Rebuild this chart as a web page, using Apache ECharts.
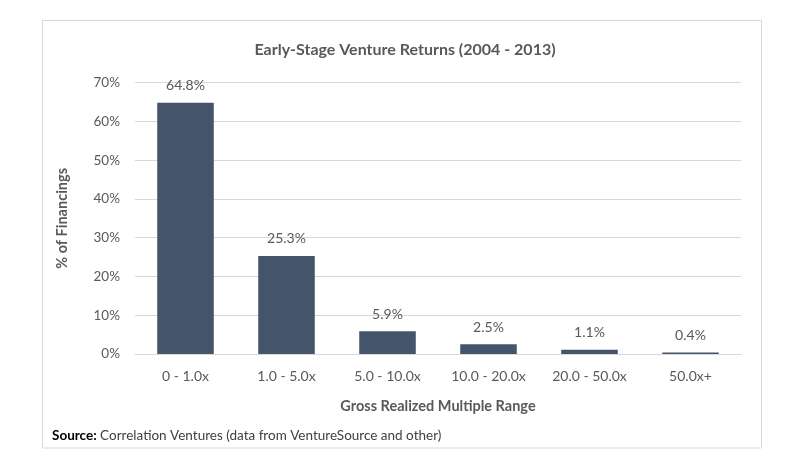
<!DOCTYPE html>
<html><head><meta charset="utf-8">
<script src="https://cdn.jsdelivr.net/npm/echarts@6/dist/echarts.min.js"></script>
<style>html,body{margin:0;padding:0;background:#fff}#c{width:810px;height:462px}</style>
</head><body><div id="c"></div>
<script>
const categories = ['0 - 1.0x','1.0 - 5.0x','5.0 - 10.0x','10.0 - 20.0x','20.0 - 50.0x','50.0x+'];
const values = [64.8, 25.3, 5.9, 2.5, 1.1, 0.4];
const titleText = 'Early-Stage Venture Returns (2004 - 2013)';
const yAxisName = '% of Financings';
const xAxisName = 'Gross Realized Multiple Range';
const sourceLabel = 'Source:';
const sourceText = ' Correlation Ventures (data from VentureSource and other)';
const FONT = 'Lato';
const TXT = '#595959';
const chart = echarts.init(document.getElementById('c'), null, {renderer:'canvas'});
chart.setOption({
  animation:false,
  textStyle:{fontFamily:FONT},
  title:{text:titleText,left:'center',top:37,textStyle:{fontFamily:FONT,fontSize:16,fontWeight:'bold',color:TXT}},
  grid:{left:135,right:69,top:82.7,bottom:108,containLabel:false},
  xAxis:{type:'category',data:categories,
    axisLine:{lineStyle:{color:'#d9d9d9'}},axisTick:{show:false},
    axisLabel:{color:TXT,fontSize:14,margin:15,fontFamily:FONT},
    name:xAxisName,nameLocation:'middle',nameGap:45,
    nameTextStyle:{color:TXT,fontSize:14.5,fontWeight:'bold',fontFamily:FONT}},
  yAxis:{type:'value',min:0,max:70,interval:10,
    axisLine:{show:false},axisTick:{show:false},
    splitLine:{lineStyle:{color:'#d9d9d9'}},
    axisLabel:{color:TXT,fontSize:13.5,margin:15,formatter:'{value}%',fontFamily:FONT},
    name:yAxisName,nameLocation:'middle',nameGap:65,nameRotate:90,
    nameTextStyle:{color:TXT,fontSize:14.5,fontWeight:'bold',fontFamily:FONT}},
  series:[{type:'bar',data:values,barWidth:'56%',
    itemStyle:{color:'#44546a'},
    label:{show:true,position:'top',distance:10,color:TXT,fontSize:14,fontFamily:FONT,
      formatter:p=>p.value.toFixed(1)+'%'}}],
  graphic:[
    {type:'rect',shape:{x:42.5,y:20.5,width:719,height:427.5},style:{fill:'none',stroke:'#d9d9d9',lineWidth:1},z:-1},
    {type:'text',left:52,top:429,style:{
      text:'{b|'+sourceLabel+'}{n|'+sourceText+'}',
      rich:{b:{fontWeight:'bold',fontSize:13.5,fill:'#000',fontFamily:FONT},n:{fontSize:13.5,fill:'#404040',fontFamily:FONT}}}}
  ]
});
</script></body></html>
